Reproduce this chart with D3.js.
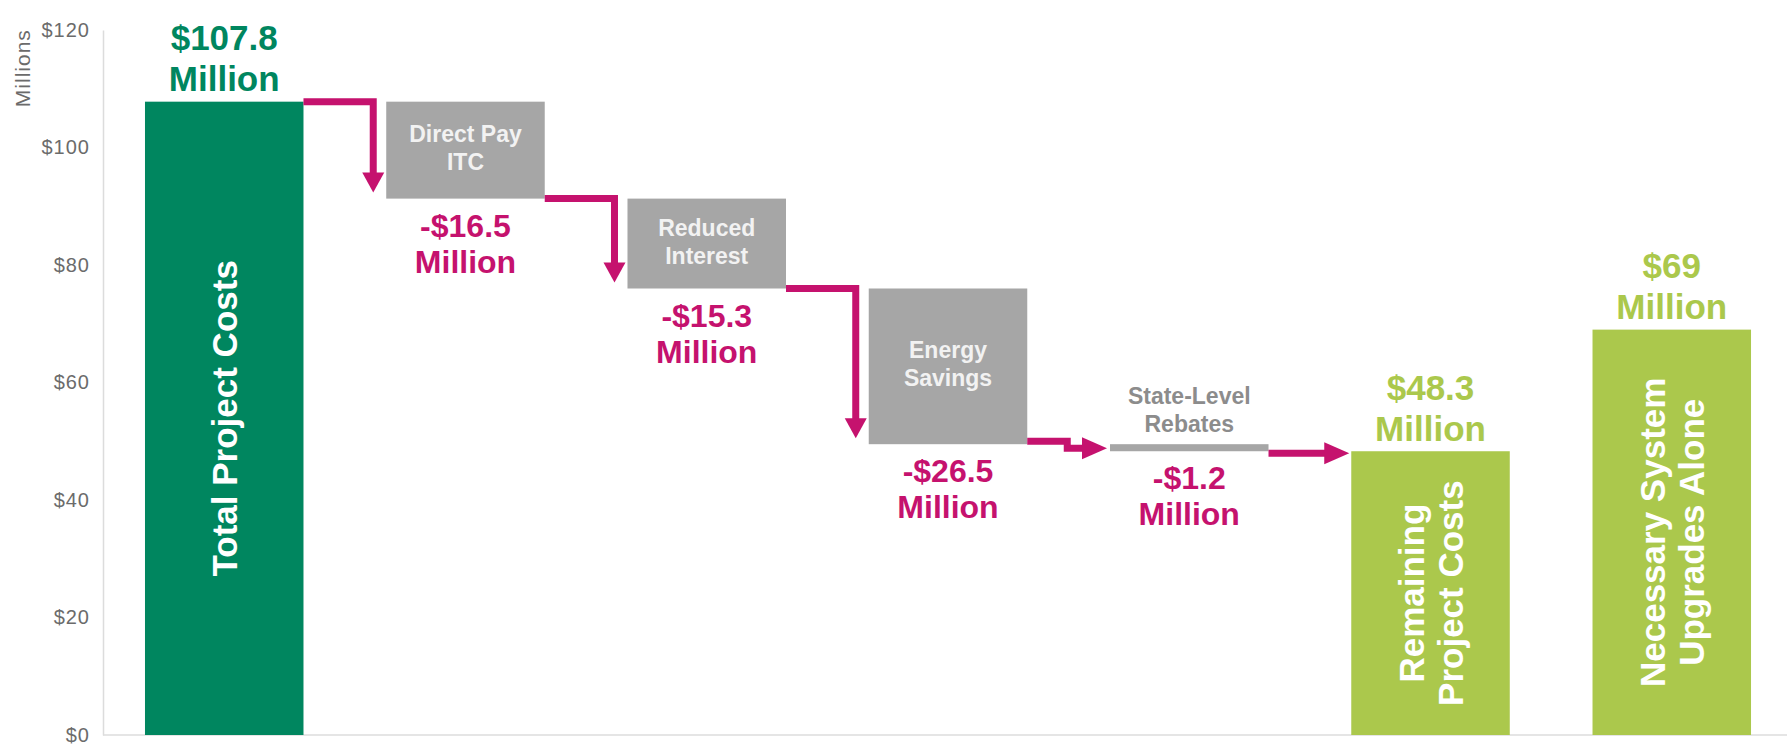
<!DOCTYPE html>
<html>
<head>
<meta charset="utf-8">
<script src="https://cdn.jsdelivr.net/npm/d3@7"></script>
<style>
  body { margin: 0; background: #fff; }
  svg { display: block; font-family: "Liberation Sans", Arial, sans-serif; }
</style>
</head>
<body>
<div id="chart"></div>
<script>
// waterfall: project costs down to remaining costs
var categories = ["Total Project Costs", "Direct Pay ITC", "Reduced Interest", "Energy Savings",
                  "State-Level Rebates", "Remaining Project Costs", "Necessary System Upgrades Alone"];
var values = [107.8, -16.5, -15.3, -26.5, -1.2, 48.3, 69];
var kinds = ["total", "step", "step", "step", "step", "total", "other"];
var valueLabels = [["$107.8", "Million"], ["-$16.5", "Million"], ["-$15.3", "Million"], ["-$26.5", "Million"],
                   ["-$1.2", "Million"], ["$48.3", "Million"], ["$69", "Million"]];
var barLabels = [["Total Project Costs"], ["Direct Pay", "ITC"], ["Reduced", "Interest"], ["Energy", "Savings"],
                 ["State-Level", "Rebates"], ["Remaining", "Project Costs"], ["Necessary System", "Upgrades Alone"]];
var yTicks = [0, 20, 40, 60, 80, 100, 120];

var width = 1787, height = 746;
var darkGreen = "#00865f", lightGreen = "#abc84c", grey = "#a6a6a6", pink = "#c5126e";

var svg = d3.select("#chart").append("svg")
    .attr("width", width)
    .attr("height", height);

var x = d3.scaleBand()
    .domain(categories)
    .range([103, 1793])
    .paddingInner(0.343)
    .paddingOuter(0.174);

var y = d3.scaleLinear()
    .domain([0, 120])
    .range([735, 30]);

// running totals
var bars = [];
var running = 0;
categories.forEach(function(c, i) {
    var v = values[i], lo, hi;
    if (kinds[i] == "step") {
        hi = running; lo = running + v; running = lo;
    } else {
        lo = 0; hi = v;
        if (kinds[i] == "total") running = v;
    }
    bars.push({cat: c, i: i, kind: kinds[i], lo: lo, hi: hi});
});

// axis
var yAxis = svg.append("g")
    .attr("transform", "translate(103,0)")
    .call(d3.axisLeft(y).tickValues(yTicks).tickFormat(function(d) { return "$" + d; })
        .tickSize(0).tickPadding(13));
yAxis.select(".domain").attr("stroke", "#dcdcdc").attr("stroke-width", 1.5);
yAxis.selectAll("text")
    .attr("fill", "#6b6b6b")
    .style("font-size", "20px")
    .style("letter-spacing", "1px");

svg.append("line")
    .attr("x1", 103).attr("x2", width)
    .attr("y1", y(0)).attr("y2", y(0))
    .attr("stroke", "#dcdcdc").attr("stroke-width", 1.5);

svg.append("text")
    .attr("transform", "translate(22," + y(113.5) + ") rotate(-90)")
    .attr("text-anchor", "middle")
    .attr("dominant-baseline", "central")
    .attr("fill", "#6b6b6b")
    .style("font-size", "21px")
    .style("letter-spacing", "1px")
    .text("Millions");

function barColor(d) {
    if (d.kind == "step") return grey;
    return d.i == 0 ? darkGreen : lightGreen;
}

svg.selectAll(".bar")
    .data(bars)
    .enter().append("rect")
    .attr("class", "bar")
    .attr("x", function(d) { return x(d.cat); })
    .attr("y", function(d) { return y(d.hi); })
    .attr("width", x.bandwidth())
    .attr("height", function(d) { return y(d.lo) - y(d.hi); })
    .attr("fill", barColor);

// arrows between bars
var arrows = svg.append("g").attr("fill", pink).attr("stroke", pink);
bars.forEach(function(d, i) {
    if (i == 0 || i > 5) return;
    var prev = bars[i - 1];
    var x0 = x(prev.cat) + x.bandwidth();
    var xs = x(d.cat);
    var yPrev = y(d.hi);
    var yNew = y(d.kind == "step" ? d.lo : d.hi);
    var path, head;
    if (yNew - yPrev > 25) {
        var xv = xs - 13;
        var tip = yNew - 6;
        path = "M" + x0 + "," + yPrev + "H" + xv + "V" + (tip - 18);
        head = [[xv - 11, tip - 20], [xv + 11, tip - 20], [xv, tip]];
    } else if (d.kind == "step") {
        var xm = x0 + 40, tipX = xs - 3;
        var ya = yPrev - 3, yb = yNew - 3;
        path = "M" + x0 + "," + ya + "H" + xm + "V" + yb + "H" + (tipX - 22);
        head = [[tipX - 25, yb - 11], [tipX - 25, yb + 11], [tipX, yb]];
    } else {
        var tipX2 = xs - 2, yc = yNew + 2;
        path = "M" + x0 + "," + yc + "H" + (tipX2 - 22);
        head = [[tipX2 - 25, yc - 11], [tipX2 - 25, yc + 11], [tipX2, yc]];
    }
    arrows.append("path")
        .attr("d", path)
        .attr("fill", "none")
        .attr("stroke-width", 7)
        .attr("stroke-linejoin", "miter");
    arrows.append("path")
        .attr("d", "M" + head.join("L") + "Z")
        .attr("stroke", "none");
});

// value labels
bars.forEach(function(d, i) {
    var cx = x(d.cat) + x.bandwidth() / 2;
    var lines = valueLabels[i];
    var col, y1;
    if (d.kind == "step") {
        col = pink;
        y1 = y(d.lo) + 27;
    } else {
        col = d.i == 0 ? darkGreen : lightGreen;
        y1 = y(d.hi) - 64;
    }
    var t = svg.append("text")
        .attr("text-anchor", "middle")
        .attr("fill", col)
        .style("font-weight", "bold")
        .style("font-size", d.kind == "step" ? "32px" : "35px");
    lines.forEach(function(s, k) {
        t.append("tspan")
            .attr("x", cx)
            .attr("y", y1 + k * (d.kind == "step" ? 36 : 41))
            .attr("dominant-baseline", "central")
            .text(s);
    });
});

// labels on bars
bars.forEach(function(d, i) {
    var cx = x(d.cat) + x.bandwidth() / 2;
    var lines = barLabels[i];
    var h = y(d.lo) - y(d.hi);
    if (d.kind == "step") {
        var inside = h > 60;
        var cy = inside ? (y(d.hi) + y(d.lo)) / 2 - 2 : y(d.hi) - 34;
        var t = svg.append("text")
            .attr("text-anchor", "middle")
            .attr("fill", inside ? "#f2f2f2" : "#8c8c8c")
            .style("font-weight", "bold")
            .style("font-size", "23px");
        lines.forEach(function(s, k) {
            t.append("tspan")
                .attr("x", cx)
                .attr("y", cy + (k - (lines.length - 1) / 2) * 28)
                .attr("dominant-baseline", "central")
                .text(s);
        });
    } else {
        var cyr = (y(d.hi) + y(d.lo)) / 2;
        var tr = svg.append("text")
            .attr("transform", "translate(" + cx + "," + cyr + ") rotate(-90)")
            .attr("text-anchor", "middle")
            .attr("fill", "#ffffff")
            .style("font-weight", "bold")
            .style("font-size", "35px");
        lines.forEach(function(s, k) {
            tr.append("tspan")
                .attr("x", 0)
                .attr("y", (k - (lines.length - 1) / 2) * 39)
                .attr("dominant-baseline", "central")
                .text(s);
        });
    }
});
</script>
</body>
</html>
